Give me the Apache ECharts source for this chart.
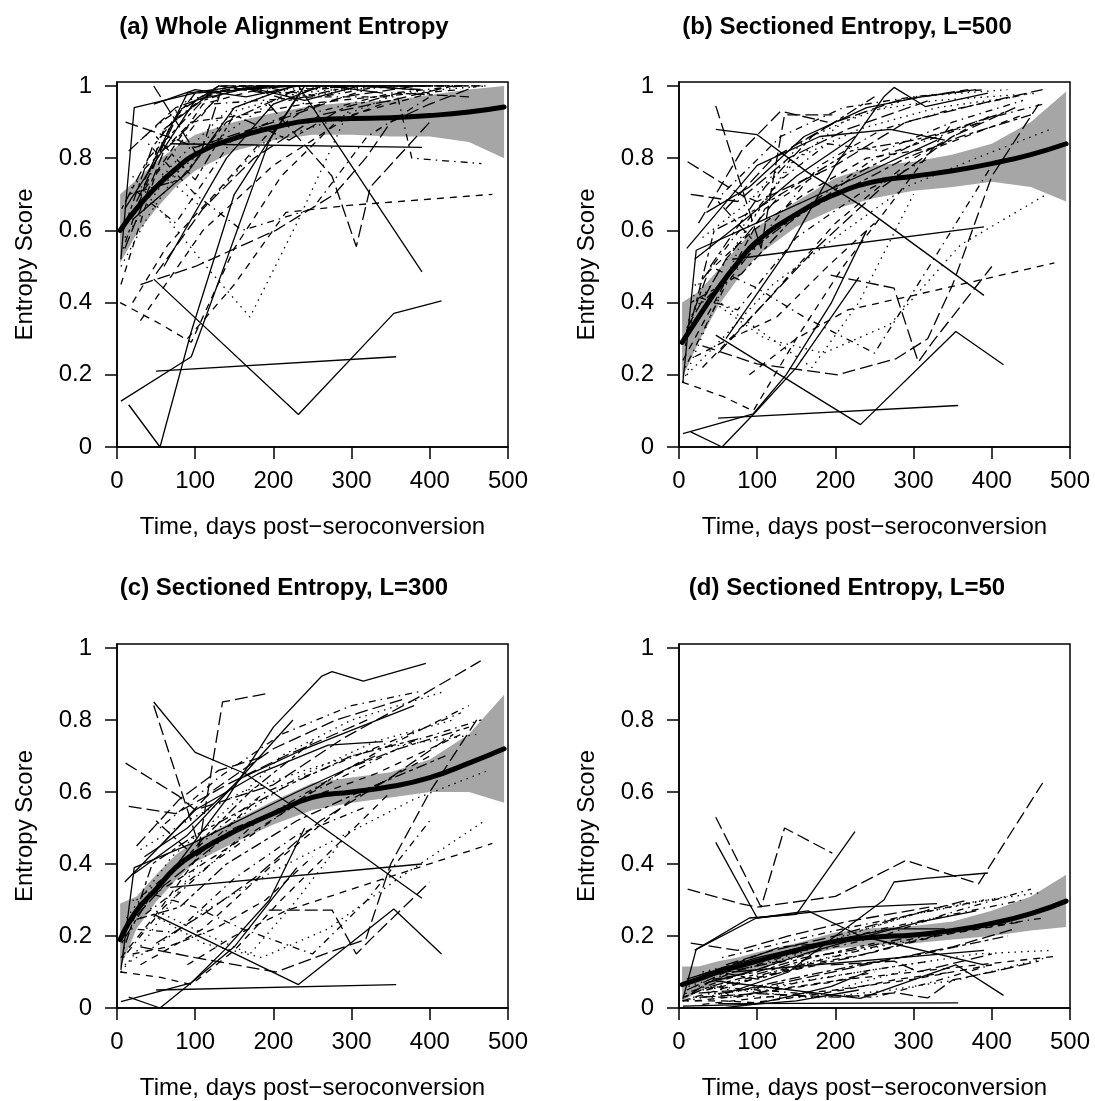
<!DOCTYPE html>
<html>
<head>
<meta charset="utf-8">
<script src="https://cdn.jsdelivr.net/npm/echarts@6/dist/echarts.min.js"></script>
<style>
  body { margin: 0; background: #fff; }
  #chart { width: 1095px; height: 1101px; }
</style>
</head>
<body>
<div id="chart"></div>
<script>
// panel titles
var panelTitles = ['(a) Whole Alignment Entropy', '(b) Sectioned Entropy, L=500',
                   '(c) Sectioned Entropy, L=300', '(d) Sectioned Entropy, L=50'];

// days of each subject's samples (shared by all four panels)
var subjectDays = [
  [50, 357],
  [47, 232, 354, 415],
  [5, 95, 137, 195, 240],
  [15, 55, 95, 150, 230],
  [68, 390],
  [47, 100, 165, 232, 390],
  [60, 140, 200, 262, 275, 315, 395],
  [5, 22, 99, 230, 330],
  [4, 56, 95, 150, 210, 280, 350],
  [90, 150, 216, 300, 480],
  [11, 78, 100, 200, 290, 383, 465],
  [47, 105, 135, 196],
  [20, 118, 170, 230, 300],
  [194, 275, 306, 324, 400],
  [30, 120, 250, 359, 377, 466],
  [30, 100, 203, 278, 318, 350, 400, 460],
  [8, 60, 120, 180, 260, 340, 450],
  [12, 70, 140, 210, 300, 420],
  [25, 80, 130, 190],
  [6, 40, 110, 170, 250],
  [35, 95, 160, 240, 330, 440],
  [10, 55, 120, 200, 290, 380, 475],
  [18, 75, 150, 230, 320],
  [50, 110, 175, 260, 350, 430],
  [10, 100, 180, 270, 340],
  [8, 45, 100, 160, 220, 300, 390],
  [20, 65, 125, 190, 250],
  [30, 90, 160, 240, 330, 460],
  [40, 100, 160, 250, 320, 400],
  [60, 120, 200, 280, 370],
  [20, 90, 150, 225],
  [15, 80, 140, 230, 310, 420],
  [5, 50, 110, 180],
  [45, 110, 185, 270, 360, 470],
  [25, 70, 130, 190, 260, 350, 440],
  [10, 60, 130],
  [35, 90, 160, 240, 310, 380],
  [50, 100, 150, 220, 290, 360, 450],
  [30, 110, 200, 300, 400],
  [5, 40, 90, 150, 230, 330, 430],
  [55, 130, 210, 300, 390],
  [15, 75, 140, 215, 320]
];

// R line types per subject (1 solid, 2 dashed, 3 dotted, 4 dotdash, 5 longdash, 6 twodash)
var subjectLty = [1, 1, 1, 1, 1, 1, 1, 1, 2, 2, 5, 5, 3, 5, 4, 5, 4, 3, 5, 6, 2,
                  3, 4, 5, 1, 6, 2, 3, 4, 5, 1, 6, 2, 3, 4, 5, 1, 6, 2, 3, 4, 5];

// (a) whole alignment entropy
var scoreWhole = [
  [0.21, 0.25],
  [0.465, 0.09, 0.37, 0.405],
  [0.127, 0.25, 0.5, 0.85, 1.0],
  [0.117, 0.0, 0.32, 0.7, 0.97],
  [0.84, 0.83],
  [0.95, 0.99, 0.97, 1.0, 0.485],
  [0.5, 0.8, 0.95, 1.0, 1.0, 1.0, 1.0],
  [0.52, 0.94, 0.98, 1.0, 1.0],
  [0.40, 0.34, 0.29, 0.55, 0.75, 0.9, 0.96],
  [0.3, 0.45, 0.65, 0.67, 0.70],
  [0.9, 0.85, 0.83, 0.9, 0.97, 1.0, 1.0],
  [1.0, 0.8, 1.0, 1.0],
  [0.75, 0.49, 0.36, 0.62, 0.95],
  [0.95, 0.75, 0.555, 0.72, 0.9],
  [0.7, 0.95, 0.97, 0.97, 0.80, 0.785],
  [0.45, 0.5, 0.6, 0.7, 0.8, 0.9, 0.95, 1.0],
  [0.55, 0.88, 0.98, 1.0, 0.97, 1.0, 1.0],
  [0.62, 0.78, 0.93, 0.99, 1.0, 1.0],
  [0.68, 0.93, 1.0, 0.98],
  [0.66, 0.80, 0.96, 1.0, 1.0],
  [0.77, 0.90, 0.92, 0.95, 0.97, 0.99],
  [0.58, 0.72, 0.84, 0.96, 0.99, 1.0, 1.0],
  [0.72, 0.62, 0.86, 0.93, 0.99],
  [0.48, 0.66, 0.80, 0.92, 0.96, 1.0],
  [0.66, 0.96, 1.0, 1.0, 0.98],
  [0.60, 0.83, 0.98, 1.0, 0.96, 1.0, 0.99],
  [0.40, 0.56, 0.70, 0.86, 0.95],
  [0.85, 0.96, 1.0, 0.97, 1.0, 1.0],
  [0.84, 0.70, 0.60, 0.66, 0.86, 0.97],
  [0.88, 0.98, 1.0, 1.0, 1.0],
  [0.63, 0.76, 0.94, 1.0],
  [0.70, 0.74, 0.90, 0.99, 1.0, 1.0],
  [0.45, 0.76, 0.95, 0.99],
  [0.78, 0.66, 0.84, 0.90, 0.98, 1.0],
  [0.66, 0.90, 1.0, 1.0, 0.93, 0.98, 1.0],
  [0.55, 0.82, 0.97],
  [0.74, 0.98, 1.0, 0.96, 1.0, 0.99],
  [0.86, 0.74, 0.92, 0.85, 0.94, 0.98, 0.97],
  [0.35, 0.60, 0.78, 0.92, 0.98],
  [0.50, 0.64, 0.80, 0.93, 0.98, 1.0, 1.0],
  [0.90, 1.0, 0.98, 1.0, 1.0],
  [0.82, 0.94, 0.99, 1.0, 1.0]
];

// (b) sectioned entropy, L=500
var scoreL500 = [
  [0.08, 0.115],
  [0.31, 0.062, 0.32, 0.228],
  [0.037, 0.092, 0.2, 0.4, 0.6],
  [0.042, 0.0, 0.09, 0.22, 0.47],
  [0.52, 0.61],
  [0.88, 0.865, 0.76, 0.67, 0.42],
  [0.3, 0.55, 0.78, 0.97, 0.996, 0.943, 0.98],
  [0.18, 0.545, 0.62, 0.75, 0.85],
  [0.18, 0.14, 0.10, 0.3, 0.5, 0.7, 0.9],
  [0.2, 0.3, 0.38, 0.42, 0.51],
  [0.79, 0.70, 0.68, 0.78, 0.9, 0.95, 0.99],
  [0.945, 0.55, 0.92, 0.92],
  [0.45, 0.3, 0.22, 0.4, 0.7],
  [0.476, 0.44, 0.235, 0.29, 0.5],
  [0.4, 0.6, 0.8, 0.88, 0.9, 0.95],
  [0.28, 0.23, 0.2, 0.245, 0.30, 0.45, 0.75, 0.95],
  [0.22, 0.45, 0.62, 0.78, 0.88, 0.93, 0.98],
  [0.35, 0.55, 0.78, 0.90, 0.97, 0.99],
  [0.62, 0.82, 0.93, 0.90],
  [0.30, 0.50, 0.72, 0.86, 0.97],
  [0.48, 0.60, 0.70, 0.80, 0.83, 0.92],
  [0.20, 0.30, 0.45, 0.58, 0.72, 0.80, 0.88],
  [0.42, 0.38, 0.58, 0.70, 0.80],
  [0.26, 0.40, 0.55, 0.72, 0.86, 0.94],
  [0.55, 0.78, 0.86, 0.88, 0.85],
  [0.28, 0.60, 0.66, 0.74, 0.82, 0.85, 0.90],
  [0.25, 0.30, 0.36, 0.50, 0.62],
  [0.58, 0.68, 0.85, 0.93, 0.96, 0.98],
  [0.50, 0.44, 0.36, 0.26, 0.50, 0.78],
  [0.66, 0.80, 0.90, 0.96, 0.99],
  [0.52, 0.64, 0.75, 0.86],
  [0.40, 0.48, 0.62, 0.76, 0.85, 0.93],
  [0.24, 0.42, 0.66, 0.76],
  [0.40, 0.30, 0.26, 0.34, 0.56, 0.70],
  [0.45, 0.58, 0.74, 0.84, 0.82, 0.90, 0.96],
  [0.33, 0.52, 0.70],
  [0.65, 0.72, 0.86, 0.94, 0.97, 0.99],
  [0.68, 0.56, 0.64, 0.72, 0.80, 0.86, 0.92],
  [0.22, 0.40, 0.62, 0.80, 0.92],
  [0.18, 0.36, 0.62, 0.80, 0.88, 0.94, 0.97],
  [0.70, 0.86, 0.94, 0.97, 0.99],
  [0.70, 0.68, 0.80, 0.88, 0.96]
];

// (c) sectioned entropy, L=300
var scoreL300 = [
  [0.05, 0.065],
  [0.26, 0.065, 0.275, 0.15],
  [0.018, 0.07, 0.16, 0.3, 0.5],
  [0.03, 0.0, 0.07, 0.17, 0.39],
  [0.335, 0.40],
  [0.85, 0.71, 0.65, 0.55, 0.305],
  [0.35, 0.58, 0.78, 0.922, 0.934, 0.908, 0.957],
  [0.106, 0.39, 0.46, 0.6, 0.7],
  [0.10, 0.085, 0.065, 0.16, 0.3, 0.45, 0.6],
  [0.12, 0.2, 0.27, 0.33, 0.457],
  [0.68, 0.59, 0.55, 0.62, 0.75, 0.86, 0.964],
  [0.84, 0.45, 0.85, 0.875],
  [0.3, 0.2, 0.15, 0.3, 0.5],
  [0.272, 0.272, 0.15, 0.19, 0.35],
  [0.25, 0.4, 0.6, 0.72, 0.74, 0.8],
  [0.17, 0.14, 0.10, 0.16, 0.19, 0.40, 0.6, 0.8],
  [0.14, 0.28, 0.40, 0.52, 0.62, 0.72, 0.84],
  [0.25, 0.42, 0.55, 0.70, 0.80, 0.88],
  [0.45, 0.58, 0.66, 0.70],
  [0.18, 0.30, 0.47, 0.60, 0.74],
  [0.30, 0.38, 0.47, 0.58, 0.65, 0.76],
  [0.12, 0.18, 0.28, 0.38, 0.48, 0.58, 0.66],
  [0.22, 0.21, 0.36, 0.48, 0.56],
  [0.18, 0.26, 0.36, 0.52, 0.64, 0.76],
  [0.35, 0.55, 0.65, 0.73, 0.74],
  [0.16, 0.40, 0.48, 0.55, 0.62, 0.70, 0.75],
  [0.15, 0.17, 0.22, 0.30, 0.42],
  [0.44, 0.52, 0.60, 0.66, 0.72, 0.76],
  [0.32, 0.28, 0.22, 0.15, 0.30, 0.52],
  [0.46, 0.60, 0.72, 0.80, 0.86],
  [0.37, 0.48, 0.62, 0.80],
  [0.24, 0.28, 0.40, 0.52, 0.60, 0.70],
  [0.14, 0.26, 0.44, 0.58],
  [0.26, 0.18, 0.14, 0.22, 0.36, 0.52],
  [0.30, 0.38, 0.50, 0.60, 0.66, 0.74, 0.82],
  [0.22, 0.34, 0.46],
  [0.42, 0.50, 0.64, 0.72, 0.78, 0.84],
  [0.52, 0.42, 0.50, 0.56, 0.66, 0.72, 0.78],
  [0.12, 0.22, 0.40, 0.58, 0.70],
  [0.10, 0.20, 0.36, 0.52, 0.64, 0.74, 0.80],
  [0.50, 0.64, 0.76, 0.84, 0.88],
  [0.56, 0.54, 0.62, 0.70, 0.80]
];

// (d) sectioned entropy, L=50
var scoreL50 = [
  [0.012, 0.014],
  [0.075, 0.027, 0.12, 0.035],
  [0.005, 0.01, 0.03, 0.06, 0.1],
  [0.0, 0.0, 0.01, 0.02, 0.05],
  [0.10, 0.16],
  [0.46, 0.25, 0.27, 0.2, 0.12],
  [0.04, 0.1, 0.2, 0.3, 0.35, 0.36, 0.375],
  [0.025, 0.163, 0.25, 0.28, 0.29],
  [0.02, 0.02, 0.015, 0.03, 0.05, 0.08, 0.1],
  [0.04, 0.06, 0.08, 0.1, 0.143],
  [0.33, 0.29, 0.28, 0.31, 0.41, 0.345, 0.625],
  [0.53, 0.28, 0.50, 0.43],
  [0.06, 0.04, 0.03, 0.07, 0.11],
  [0.12, 0.13, 0.1, 0.11, 0.15],
  [0.05, 0.1, 0.17, 0.22, 0.22, 0.25],
  [0.03, 0.04, 0.03, 0.042, 0.028, 0.078, 0.1, 0.13],
  [0.04, 0.08, 0.12, 0.16, 0.20, 0.26, 0.33],
  [0.06, 0.10, 0.14, 0.20, 0.26, 0.31],
  [0.09, 0.13, 0.17, 0.18],
  [0.03, 0.06, 0.10, 0.14, 0.18],
  [0.05, 0.08, 0.12, 0.15, 0.20, 0.24],
  [0.02, 0.04, 0.06, 0.09, 0.12, 0.15, 0.16],
  [0.03, 0.03, 0.07, 0.10, 0.13],
  [0.04, 0.06, 0.09, 0.13, 0.17, 0.22],
  [0.08, 0.14, 0.18, 0.22, 0.22],
  [0.03, 0.08, 0.10, 0.14, 0.16, 0.20, 0.23],
  [0.02, 0.03, 0.05, 0.07, 0.10],
  [0.10, 0.13, 0.16, 0.22, 0.28, 0.32],
  [0.06, 0.05, 0.04, 0.03, 0.07, 0.12],
  [0.12, 0.16, 0.20, 0.25, 0.30],
  [0.16, 0.25, 0.26, 0.49],
  [0.04, 0.05, 0.08, 0.12, 0.15, 0.20],
  [0.02, 0.05, 0.09, 0.12],
  [0.04, 0.03, 0.03, 0.05, 0.08, 0.14],
  [0.06, 0.10, 0.14, 0.18, 0.22, 0.26, 0.30],
  [0.05, 0.10, 0.13],
  [0.07, 0.10, 0.15, 0.20, 0.24, 0.27],
  [0.10, 0.08, 0.11, 0.14, 0.18, 0.22, 0.26],
  [0.01, 0.03, 0.05, 0.08, 0.12],
  [0.02, 0.04, 0.08, 0.12, 0.16, 0.20, 0.24],
  [0.14, 0.18, 0.22, 0.26, 0.30],
  [0.18, 0.16, 0.20, 0.24, 0.28]
];

// loess fit and its confidence band
var smoothDays = [4, 25, 50, 75, 100, 150, 200, 250, 300, 350, 400, 450, 495];
var smoothFit = [
  [0.60, 0.66, 0.72, 0.77, 0.81, 0.855, 0.885, 0.905, 0.91, 0.912, 0.918, 0.928, 0.942],
  [0.29, 0.36, 0.44, 0.51, 0.57, 0.645, 0.70, 0.735, 0.75, 0.765, 0.785, 0.81, 0.84],
  [0.19, 0.27, 0.33, 0.39, 0.43, 0.49, 0.54, 0.585, 0.60, 0.615, 0.64, 0.68, 0.72],
  [0.065, 0.08, 0.10, 0.115, 0.13, 0.16, 0.185, 0.197, 0.203, 0.215, 0.235, 0.262, 0.297]
];
var bandLower = [
  [0.51, 0.59, 0.66, 0.72, 0.765, 0.82, 0.85, 0.865, 0.865, 0.86, 0.86, 0.845, 0.80],
  [0.19, 0.29, 0.39, 0.465, 0.53, 0.61, 0.66, 0.69, 0.71, 0.72, 0.735, 0.72, 0.68],
  [0.11, 0.22, 0.295, 0.355, 0.405, 0.46, 0.51, 0.55, 0.57, 0.585, 0.60, 0.60, 0.57],
  [0.02, 0.045, 0.07, 0.09, 0.108, 0.14, 0.165, 0.175, 0.18, 0.19, 0.20, 0.215, 0.225]
];
var bandUpper = [
  [0.70, 0.74, 0.79, 0.83, 0.865, 0.90, 0.925, 0.945, 0.955, 0.96, 0.975, 0.99, 1.0],
  [0.40, 0.43, 0.49, 0.555, 0.61, 0.68, 0.745, 0.78, 0.79, 0.81, 0.84, 0.90, 0.985],
  [0.29, 0.31, 0.37, 0.425, 0.465, 0.52, 0.575, 0.625, 0.64, 0.655, 0.69, 0.76, 0.87],
  [0.115, 0.115, 0.13, 0.14, 0.155, 0.18, 0.21, 0.222, 0.228, 0.24, 0.27, 0.31, 0.37]
];

var yTicks = [0, 0.2, 0.4, 0.6, 0.8, 1];

var panelScores = [scoreWhole, scoreL500, scoreL300, scoreL50];
var dashFor = {1: 'solid', 2: [7, 6], 3: [1.5, 5], 4: [1.5, 5, 7, 5], 5: [13, 5], 6: [4, 4, 11, 4]};
var font = "'Liberation Sans', Arial, Helvetica, sans-serif";

var grids = [
  {left: 117, top: 82, width: 391, height: 365},
  {left: 679, top: 82, width: 391, height: 365},
  {left: 117, top: 644, width: 391, height: 364},
  {left: 679, top: 644, width: 391, height: 364}
];
var titleX = [279, 842, 279, 842];
var titleY = [10, 10, 571, 571];

var myChart = echarts.init(document.getElementById('chart'), null, {renderer: 'canvas'});

var grid = [], xAxis = [], yAxis = [], title = [], series = [];
grids.forEach(function(g, p) {
  grid.push({left: g.left, top: g.top, width: g.width, height: g.height,
             show: true, borderColor: '#000', borderWidth: 1.5, backgroundColor: 'transparent'});
  title.push({text: panelTitles[p], left: titleX[p], top: titleY[p], textAlign: 'center',
              textStyle: {fontFamily: font, fontSize: 24, fontWeight: 'bold', color: '#000'}});
  xAxis.push({
    gridIndex: p, type: 'value', min: 0, max: 500, interval: 100,
    name: 'Time, days post\u2212seroconversion', nameLocation: 'middle', nameGap: 68,
    nameTextStyle: {fontFamily: font, fontSize: 24, color: '#000'},
    axisLine: {show: true, onZero: false, lineStyle: {color: '#000', width: 1.5}},
    axisTick: {show: true, inside: false, length: 12, lineStyle: {color: '#000', width: 1.5}},
    axisLabel: {fontFamily: font, fontSize: 24, color: '#000', margin: 22},
    splitLine: {show: false}
  });
  yAxis.push({
    gridIndex: p, type: 'value', min: 0, max: 1.011,
    name: 'Entropy Score', nameLocation: 'middle', nameGap: 80,
    nameTextStyle: {fontFamily: font, fontSize: 24, color: '#000'},
    axisLine: {show: true, onZero: false, lineStyle: {color: '#000', width: 1.5}},
    axisTick: {show: true, inside: false, length: 12, customValues: yTicks,
               lineStyle: {color: '#000', width: 1.5}},
    axisLabel: {fontFamily: font, fontSize: 24, color: '#000', margin: 25, customValues: yTicks,
                formatter: function(v) { return (v === 0 || v === 1) ? String(v) : v.toFixed(1); }},
    splitLine: {show: false}
  });

  // confidence band
  (function(p) {
    series.push({
      type: 'custom', xAxisIndex: p, yAxisIndex: p, silent: true, z: 1,
      data: [[smoothDays[0], smoothFit[p][0]]],
      renderItem: function(params, api) {
        var pts = [];
        smoothDays.forEach(function(d, k) { pts.push(api.coord([d, bandUpper[p][k]])); });
        for (var k = smoothDays.length - 1; k >= 0; k--) {
          pts.push(api.coord([smoothDays[k], bandLower[p][k]]));
        }
        return {type: 'polygon', shape: {points: pts}, style: {fill: '#a6a6a6', stroke: null}};
      }
    });
  })(p);

  // subject trajectories
  panelScores[p].forEach(function(vals, i) {
    series.push({
      type: 'line', xAxisIndex: p, yAxisIndex: p, silent: true, z: 2,
      showSymbol: false, symbol: 'none', clip: true,
      data: subjectDays[i].map(function(d, k) { return [d, vals[k]]; }),
      lineStyle: {color: '#000', width: 1.3, type: dashFor[subjectLty[i]]}
    });
  });

  // loess fit
  series.push({
    type: 'line', xAxisIndex: p, yAxisIndex: p, silent: true, z: 3,
    showSymbol: false, symbol: 'none', smooth: 0.5,
    data: smoothDays.map(function(d, k) { return [d, smoothFit[p][k]]; }),
    lineStyle: {color: '#000', width: 5, cap: 'round', join: 'round'}
  });
});

var option = {
  backgroundColor: '#fff',
  animation: false,
  title: title,
  grid: grid,
  xAxis: xAxis,
  yAxis: yAxis,
  series: series
};
option && myChart.setOption(option, true);
</script>
</body>
</html>
